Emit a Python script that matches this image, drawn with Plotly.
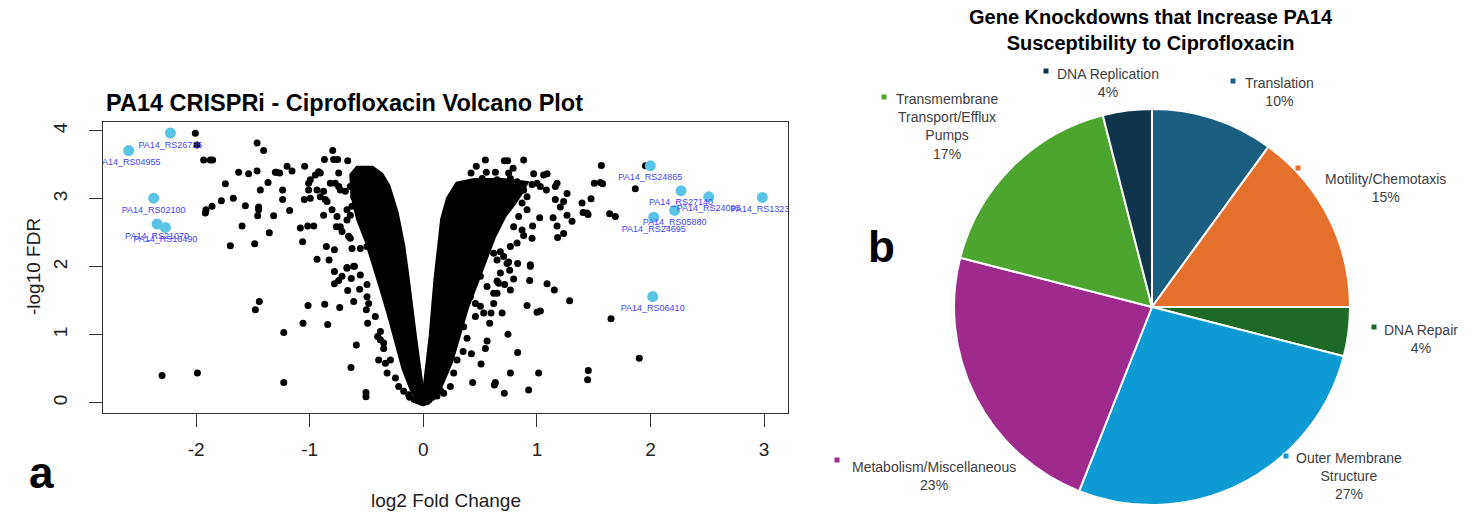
import plotly.graph_objects as go

W, H = 1474, 516

# ---------------- Volcano plot data ----------------
# individually visible (scattered) genes: log2 fold change / -log10 FDR
bg_x = [
    -2.007, -1.992, -1.934, -1.875, -1.855, -1.464, -1.406, -1.626, -1.538, -1.464, -1.303, -1.743, -1.367,
    -1.435, -1.778, -1.673, -1.860, -1.913, -1.919, -1.567, -1.450, -1.450, -1.459, -1.318, -1.596, -1.356,
    -1.699, -1.485, -1.444, -1.479, -2.300, -1.989,
    -1.200, -1.156, -1.294, -1.265, -1.045, -1.239, -1.239, -1.177, -1.083, -1.018, -0.965, -1.063, -0.936,
    -0.830, -0.854, -0.783, -0.798, -0.871, -0.790, -0.754, -0.666, -0.995, -1.010, -0.922, -0.907, -0.951,
    -1.010, -0.995, -1.048, -0.936, -0.878, -0.907, -0.863, -0.878, -0.745, -0.775, -0.745, -0.819, -0.766,
    -0.731, -0.716, -0.658, -0.643, -0.628, -0.672, -0.555, -0.496, -0.607, -0.672,
    -0.731, -0.687, -0.643, -0.613, -0.584, -0.628, -0.672, -0.643, -0.848, -0.804, -0.760, -0.540, -0.481,
    -0.452, -0.408,
    -1.229, -1.229, -1.059, -1.015, -0.868, -0.736, -0.842, -0.590, -0.637, -0.505, -0.505, -0.783, -0.716,
    -0.783, -0.745, -0.672, -0.613, -0.634, -0.555, -0.561, -0.666, -0.613, -0.496, -0.490, -0.378, -0.349,
    -0.393, -0.334, -0.290, -0.319, -0.246, -0.217, -0.173, -0.129, -0.496, -0.481, -0.502, -0.423, -0.378,
    -0.402, -0.349,
    0.546, 0.713, 0.742, 0.883, 0.466, 0.420, 0.554, 0.634, 0.751, 0.790, 0.971, 1.059, 1.089, 1.567, 1.505,
    1.558, 1.578, 1.177, 1.162, 1.265, 1.083, 1.001, 1.030, 0.957, 1.162, 1.235, 1.206, 1.397, 1.476, 1.406,
    1.450, 1.640, 1.690, 1.265, 1.309, 1.142, 1.177, 1.235, 1.182, 1.024, 0.962, 0.883, 0.957, 0.942, 1.866,
    1.441, 1.955, 1.288, 1.652, 1.901, 1.452, 1.446,
    0.517, 0.575, 0.649, 0.707, 0.766, 0.825, 0.883, 0.913, 0.869, 0.913, 0.839, 0.795, 0.869, 0.825, 0.766,
    0.707, 0.678, 0.619, 0.649, 0.737,
    1.089, 1.153, 0.913, 1.001, 1.030, 0.942, 0.936, 0.830, 0.760, 0.795, 0.751, 0.693, 0.745, 0.830, 0.766,
    1.015, 0.927, 0.713, 0.625, 0.508, 0.434, 0.423, 0.546, 0.561, 0.584, 0.596, 0.619, 0.649, 0.663, 0.678,
    0.766, 0.716, 0.649, 0.341, 0.355, 0.385, 0.350, 0.297, 0.267, 0.238, 0.179, 0.414, 0.458, 0.502, 0.531,
    0.458, 0.385, 0.443, 0.502, 0.561, 0.619,
    -0.080, -0.050, 0.050, 0.080, 0.120, 0.150, -0.120, 0.030, -0.020, 0.000, 0.634,
]
bg_y = [
    3.966, 3.790, 3.570, 3.570, 3.570, 3.820, 3.710, 3.390, 3.370, 3.410, 3.390, 3.220, 3.240,
    3.130, 2.970, 3.010, 2.890, 2.840, 2.790, 2.900, 2.880, 2.840, 2.750, 2.750, 2.600, 2.500,
    2.310, 2.340, 1.490, 1.370, 0.400, 0.440,
    3.480, 3.410, 3.390, 3.380, 3.480, 3.130, 2.990, 2.830, 2.570, 2.600, 2.600, 2.370, 2.110,
    2.100, 2.300, 2.250, 3.710, 3.580, 3.580, 3.580, 3.560, 3.280, 3.230, 3.400, 3.380, 3.350,
    3.130, 3.010, 2.990, 3.130, 3.110, 3.030, 2.990, 2.760, 3.380, 3.230, 3.180, 3.230, 2.590,
    2.590, 2.520, 2.450, 2.420, 2.270, 2.690, 2.270, 2.300, 2.010, 1.980,
    3.130, 3.110, 3.180, 3.030, 2.940, 2.890, 2.840, 2.760, 2.960, 2.840, 2.740, 3.400, 3.380,
    3.350, 3.300,
    1.034, 0.300, 1.170, 1.430, 1.450, 1.400, 1.150, 0.850, 0.520, 0.150, 0.090, 1.930, 1.860,
    1.750, 1.800, 1.990, 2.010, 1.830, 1.880, 1.670, 1.650, 1.490, 1.740, 1.170, 0.926, 0.800,
    0.630, 0.580, 0.630, 0.440, 0.365, 0.240, 0.170, 0.120, 1.560, 1.460, 1.370, 1.270, 1.050,
    0.975, 0.880,
    3.570, 3.560, 3.560, 3.570, 3.480, 3.380, 3.390, 3.390, 3.380, 3.450, 3.370, 3.350, 3.370, 3.490, 3.230,
    3.240, 3.220, 3.230, 3.180, 3.080, 3.130, 3.230, 3.180, 3.210, 2.990, 2.960, 2.880, 2.940, 3.000, 2.800,
    2.770, 2.780, 2.740, 2.760, 2.670, 2.720, 2.600, 2.490, 2.430, 2.720, 2.600, 2.460, 2.420, 2.030, 3.150,
    2.790, 3.485, 1.500, 1.235, 0.657, 0.475, 0.340,
    3.300, 3.250, 3.280, 3.230, 3.300, 3.250, 3.130, 3.030, 2.940, 2.840, 2.740, 2.590, 2.540, 2.350, 2.300,
    2.150, 2.220, 2.200, 2.100, 2.050,
    1.750, 1.660, 1.430, 1.330, 1.350, 2.010, 1.800, 2.050, 1.950, 1.820, 2.070, 1.320, 1.010, 0.740, 0.440,
    0.440, 0.190, 0.140, 0.260, 0.570, 0.300, 0.720, 0.800, 0.910, 1.170, 1.320, 1.460, 1.610, 1.760, 1.910,
    1.660, 1.740, 1.790, 1.370, 1.120, 0.950, 0.755, 0.630, 0.440, 0.240, 0.140, 1.560, 1.460, 1.420, 1.320,
    1.270, 2.030, 1.960, 1.860, 1.710, 1.610,
    0.050, 0.030, 0.040, 0.080, 0.100, 0.180, 0.080, 0.015, 0.010, 0.000, 0.300,
]

# outline of the saturated (overplotted) left arm of the volcano
core_left_x = [0.00, -0.03, -0.08, -0.14, -0.18, -0.24, -0.31, -0.37, -0.45, -0.58, -0.63, -0.62, -0.57,
               -0.50, -0.44, -0.37, -0.30, -0.23, -0.17, -0.10, -0.04, 0.00]
core_left_y = [0.00, 0.35, 1.00, 1.80, 2.30, 2.80, 3.18, 3.35, 3.45, 3.45, 3.35, 3.05, 2.70,
               2.40, 2.10, 1.70, 1.30, 0.90, 0.50, 0.20, 0.04, 0.00]
# outline of the saturated right arm
core_right_x = [0.00, 0.02, 0.07, 0.11, 0.14, 0.17, 0.22, 0.30, 0.45, 0.70, 0.90, 0.86, 0.80, 0.71,
                0.62, 0.55, 0.47, 0.38, 0.31, 0.24, 0.15, 0.06, 0.00]
core_right_y = [0.00, 0.30, 1.00, 1.80, 2.30, 2.70, 3.00, 3.22, 3.27, 3.27, 3.23, 3.10, 2.95, 2.75,
                2.45, 2.15, 1.80, 1.40, 1.00, 0.60, 0.25, 0.05, 0.00]

# highlighted genes
hit_genes = ["PA14_RS26735", "PA14_RS04955", "PA14_RS02100", "PA14_RS21070", "PA14_RS16490",
             "PA14_RS24865", "PA14_RS27140", "PA14_RS24095", "PA14_RS13230", "PA14_RS05880",
             "PA14_RS24695", "PA14_RS06410"]
hit_x = [-2.227, -2.594, -2.374, -2.344, -2.271, 1.998, 2.268, 2.512, 2.984, 2.212, 2.028, 2.019]
hit_y = [3.970, 3.710, 3.010, 2.630, 2.580, 3.485, 3.120, 3.030, 3.020, 2.830, 2.730, 1.563]

x_ticks = [-2, -1, 0, 1, 2, 3]
y_ticks = [0, 1, 2, 3, 4]

# ---------------- Pie data ----------------
categories = ["Translation", "Motility/Chemotaxis", "DNA Repair", "Outer Membrane Structure",
              "Metabolism/Miscellaneous", "Transmembrane Transport/Efflux Pumps", "DNA Replication"]
label_lines = ["Translation", "Motility/Chemotaxis", "DNA Repair", "Outer Membrane<br>Structure",
               "Metabolism/Miscellaneous", "Transmembrane<br>Transport/Efflux<br>Pumps", "DNA Replication"]
percent = [10, 15, 4, 27, 23, 17, 4]
pie_colors = ["#1a5f82", "#e5702e", "#1c6a26", "#0e9bd3", "#9e2a8e", "#4ca52f", "#0e3549"]

# label layout (pixel positions: text centre x, first line y, legend square x, y)
label_pos = [(1279, 82, 1233, 81), (1385, 178, 1298, 168), (1421, 329, 1374, 327),
             (1349, 457, 1286, 456), (934, 466, 837, 460), (947, 98, 884, 97), (1108, 73, 1046, 71)]

FONT = "Liberation Sans, Arial, sans-serif"


def px(x):
    return x / W


def py(y):
    return 1 - y / H


fig = go.Figure()

# saturated core
for cx, cy in ((core_left_x, core_left_y), (core_right_x, core_right_y)):
    fig.add_trace(go.Scatter(x=cx, y=cy, mode="lines", fill="toself", fillcolor="black",
                             line=dict(color="black", width=5), hoverinfo="skip",
                             showlegend=False, cliponaxis=True))

fig.add_trace(go.Scatter(x=bg_x, y=bg_y, mode="markers",
                         marker=dict(color="black", size=7, line=dict(width=0)),
                         showlegend=False, cliponaxis=True))

fig.add_trace(go.Scatter(x=hit_x, y=hit_y, mode="markers+text", text=hit_genes,
                         textposition="bottom center",
                         textfont=dict(family=FONT, size=9, color="#4545ff"),
                         marker=dict(color="#5bc4e6", size=11, line=dict(width=0)),
                         showlegend=False, cliponaxis=True))

# pie
pie_x0, pie_x1 = (1152 - 198) / W, (1152 + 198) / W
pie_y0, pie_y1 = (H - 307 - 198) / H, (H - 307 + 198) / H
fig.add_trace(go.Pie(labels=categories, values=percent, sort=False, direction="clockwise",
                     rotation=0, marker=dict(colors=pie_colors, line=dict(color="white", width=2)),
                     textinfo="none", hoverinfo="label+percent", showlegend=False,
                     domain=dict(x=[pie_x0, pie_x1], y=[pie_y0, pie_y1])))

annotations = []
shapes = []

# pie labels
for lbl, pct, col, (tx, ty, sx, sy) in zip(label_lines, percent, pie_colors, label_pos):
    annotations.append(dict(x=px(tx), y=py(ty - 9), xref="paper", yref="paper",
                            text=f"{lbl}<br>{pct}%", showarrow=False, xanchor="center",
                            yanchor="top", align="center",
                            font=dict(family=FONT, size=14, color="#404040")))
    shapes.append(dict(type="rect", xref="paper", yref="paper",
                       x0=px(sx - 3), x1=px(sx + 3), y0=py(sy + 3), y1=py(sy - 3),
                       fillcolor=col, line=dict(width=1, color="white")))

# titles
annotations.append(dict(x=px(1151), y=py(30), xref="paper", yref="paper",
                        text="<b>Gene Knockdowns that Increase PA14<br>Susceptibility to Ciprofloxacin</b>",
                        showarrow=False, xanchor="center", yanchor="middle", align="center",
                        font=dict(family=FONT, size=20, color="black")))
annotations.append(dict(x=px(104), y=py(103), xref="paper", yref="paper",
                        text="<b>PA14 CRISPRi - Ciprofloxacin Volcano Plot</b>",
                        showarrow=False, xanchor="left", yanchor="middle",
                        font=dict(family=FONT, size=23.5, color="black")))
annotations.append(dict(x=px(33), y=py(267), xref="paper", yref="paper", text="-log10 FDR",
                        textangle=-90, showarrow=False, xanchor="center", yanchor="middle",
                        font=dict(family=FONT, size=19, color="#222")))
annotations.append(dict(x=px(446), y=py(500), xref="paper", yref="paper", text="log2 Fold Change",
                        showarrow=False, xanchor="center", yanchor="middle",
                        font=dict(family=FONT, size=19, color="#222")))
annotations.append(dict(x=px(41), y=py(472), xref="paper", yref="paper", text="<b>a</b>",
                        showarrow=False, xanchor="center", yanchor="middle",
                        font=dict(family=FONT, size=44, color="black")))
annotations.append(dict(x=px(881), y=py(247), xref="paper", yref="paper", text="<b>b</b>",
                        showarrow=False, xanchor="center", yanchor="middle",
                        font=dict(family=FONT, size=44, color="black")))

fig.update_layout(
    width=W, height=H, margin=dict(l=0, r=0, t=0, b=0),
    paper_bgcolor="white", plot_bgcolor="white",
    showlegend=False,
    xaxis=dict(domain=[103 / W, 788 / W], range=[-2.82, 3.21], tickvals=x_ticks,
               ticktext=[str(v) for v in x_ticks],
               ticks="outside", ticklen=13, tickwidth=1.2, tickcolor="#333",
               showline=True, mirror=True, linecolor="#333", linewidth=1.3,
               showgrid=False, zeroline=False, ticklabelstandoff=6,
               tickfont=dict(family=FONT, size=19, color="#222")),
    yaxis=dict(domain=[(H - 413) / H, (H - 122) / H], range=[-0.15, 4.13], tickvals=y_ticks,
               ticktext=[str(v) for v in y_ticks],
               ticks="outside", ticklen=13, tickwidth=1.2, tickcolor="#333", tickangle=-90,
               showline=True, mirror=True, linecolor="#333", linewidth=1.3,
               showgrid=False, zeroline=False, ticklabelstandoff=14,
               tickfont=dict(family=FONT, size=19, color="#222")),
    annotations=annotations,
    shapes=shapes,
)

fig.write_html("out.html")
